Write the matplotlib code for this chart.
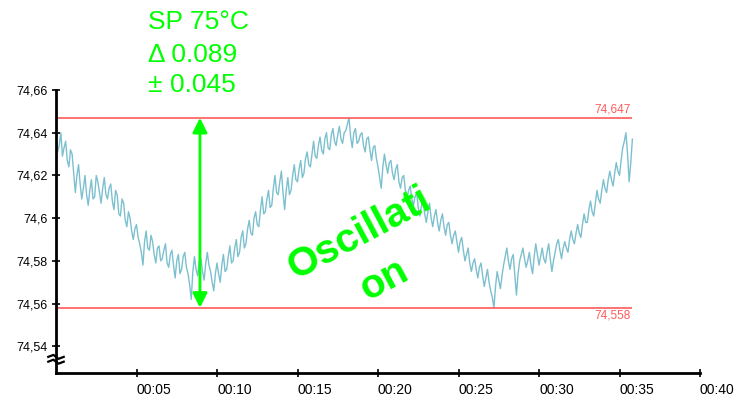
import numpy as np
import matplotlib
matplotlib.use("Agg")
import matplotlib.pyplot as plt
from matplotlib.ticker import FuncFormatter

# temperature log, one sample every 0.1 min
sample_step = 0.1
temps = [
    74.638, 74.631, 74.634, 74.640, 74.629, 74.633, 74.636, 74.627, 74.624, 74.632,
    74.630, 74.621, 74.612, 74.620, 74.625, 74.616, 74.609, 74.614, 74.620, 74.611,
    74.606, 74.613, 74.618, 74.609, 74.610, 74.620, 74.617, 74.612, 74.607, 74.614,
    74.619, 74.611, 74.609, 74.614, 74.616, 74.608, 74.604, 74.613, 74.611, 74.602,
    74.601, 74.609, 74.607, 74.599, 74.596, 74.603, 74.600, 74.594, 74.590, 74.595,
    74.597, 74.591, 74.588, 74.584, 74.578, 74.589, 74.594, 74.586, 74.585, 74.592,
    74.589, 74.583, 74.579, 74.586, 74.587, 74.580, 74.581, 74.585, 74.588, 74.579,
    74.577, 74.583, 74.585, 74.578, 74.572, 74.580, 74.583, 74.574, 74.576, 74.582,
    74.584, 74.577, 74.574, 74.569, 74.562, 74.575, 74.582, 74.576, 74.573, 74.580,
    74.581, 74.575, 74.571, 74.579, 74.584, 74.578, 74.575, 74.570, 74.566, 74.574,
    74.579, 74.574, 74.570, 74.578, 74.583, 74.575, 74.576, 74.582, 74.587, 74.579,
    74.580, 74.586, 74.590, 74.582, 74.584, 74.591, 74.594, 74.586, 74.588, 74.595,
    74.599, 74.593, 74.592, 74.600, 74.603, 74.597, 74.596, 74.604, 74.610, 74.602,
    74.603, 74.609, 74.613, 74.605, 74.606, 74.614, 74.620, 74.612, 74.611, 74.617,
    74.622, 74.612, 74.604, 74.613, 74.619, 74.611, 74.613, 74.620, 74.625, 74.618,
    74.617, 74.623, 74.627, 74.619, 74.621, 74.628, 74.631, 74.625, 74.624, 74.630,
    74.636, 74.629, 74.628, 74.634, 74.638, 74.632, 74.630, 74.637, 74.640, 74.633,
    74.632, 74.639, 74.642, 74.636, 74.634, 74.639, 74.643, 74.637, 74.635, 74.640,
    74.641, 74.644, 74.647, 74.638, 74.633, 74.640, 74.642, 74.635, 74.636, 74.639,
    74.640, 74.634, 74.631, 74.637, 74.638, 74.632, 74.627, 74.633, 74.634, 74.628,
    74.624, 74.619, 74.614, 74.624, 74.630, 74.625, 74.621, 74.626, 74.627, 74.621,
    74.618, 74.623, 74.625, 74.617, 74.614, 74.619, 74.620, 74.613, 74.609, 74.613,
    74.615, 74.609, 74.606, 74.610, 74.612, 74.605, 74.601, 74.606, 74.608, 74.602,
    74.598, 74.603, 74.607, 74.600, 74.596, 74.601, 74.604, 74.598, 74.594, 74.599,
    74.602, 74.596, 74.592, 74.597, 74.598, 74.592, 74.588, 74.592, 74.594, 74.589,
    74.584, 74.589, 74.591, 74.585, 74.580, 74.583, 74.586, 74.579, 74.575, 74.579,
    74.581, 74.576, 74.572, 74.577, 74.579, 74.573, 74.568, 74.572, 74.576, 74.570,
    74.566, 74.563, 74.558, 74.568, 74.575, 74.571, 74.567, 74.573, 74.578, 74.582,
    74.586, 74.580, 74.576, 74.581, 74.583, 74.573, 74.564, 74.574, 74.580, 74.583,
    74.586, 74.581, 74.577, 74.580, 74.584, 74.578, 74.574, 74.582, 74.588, 74.583,
    74.578, 74.582, 74.586, 74.581, 74.579, 74.584, 74.588, 74.581, 74.575, 74.580,
    74.584, 74.588, 74.590, 74.585, 74.581, 74.586, 74.589, 74.586, 74.584, 74.590,
    74.594, 74.590, 74.588, 74.593, 74.597, 74.593, 74.591, 74.597, 74.602, 74.598,
    74.598, 74.604, 74.608, 74.603, 74.601, 74.607, 74.613, 74.609, 74.607, 74.613,
    74.618, 74.614, 74.612, 74.618, 74.622, 74.618, 74.615, 74.621, 74.626, 74.622,
    74.620, 74.627, 74.633, 74.636, 74.640, 74.630, 74.617, 74.626, 74.637,
]
minutes = np.arange(len(temps)) * sample_step

t_max = 74.647
t_min = 74.558
setpoint = "SP 75°C"
delta_text = "Δ 0.089"
pm_text = "± 0.045"
x_ticks = [5, 10, 15, 20, 25, 30, 35, 40]
x_labels = ["00:05", "00:10", "00:15", "00:20", "00:25", "00:30", "00:35", "00:40"]
y_ticks = [74.54, 74.56, 74.58, 74.60, 74.62, 74.64, 74.66]

GREEN = "#00ff00"
RED = "#ff5a5a"
LINE = "#7cc0cf"

plt.rcParams["font.family"] = ["Liberation Sans", "DejaVu Sans"]


def comma_fmt(v, pos=None):
    s = "{:.2f}".format(v).rstrip("0").rstrip(".")
    return s.replace(".", ",")


fig = plt.figure(figsize=(7.42, 3.96), dpi=100)
ax = fig.add_axes([56 / 742, 23 / 396, 644 / 742, 283 / 396])

ax.plot(minutes, temps, color=LINE, lw=1.0)

# max / min lines with their values
t_end = minutes[-1]
ax.hlines([t_max, t_min], 0, t_end, colors=RED, lw=1.2)
ax.text(t_end - 0.1, t_max + 0.0009, "{:.3f}".format(t_max).replace(".", ","),
        color=RED, fontsize=8.5, ha="right", va="bottom")
ax.text(t_end - 0.1, t_min - 0.0009, "{:.3f}".format(t_min).replace(".", ","),
        color=RED, fontsize=8.5, ha="right", va="top")

# span arrow
ax.annotate("", xy=(8.94, t_min), xytext=(8.94, t_max),
            arrowprops=dict(arrowstyle="<|-|>", color=GREEN, lw=2,
                            mutation_scale=22, shrinkA=0, shrinkB=0))

ax.text(19.6, 74.582, "Oscillati\non", color=GREEN, fontsize=29,
        fontweight="bold", rotation=28, rotation_mode="anchor",
        ha="center", va="center", multialignment="center", linespacing=1.45)

fig.text(148 / 742, 1 - 29 / 396, setpoint, color=GREEN, fontsize=19, va="baseline")
fig.text(148 / 742, 1 - 62 / 396, delta_text, color=GREEN, fontsize=19, va="baseline")
fig.text(148 / 742, 1 - 92 / 396, pm_text, color=GREEN, fontsize=19, va="baseline")

ax.set_xlim(0, 40)
ax.set_ylim(74.5275, 74.66)
ax.set_xticks(x_ticks)
ax.set_xticklabels(x_labels, ha="left", fontsize=10,
                   family=["Liberation Sans Narrow", "Liberation Sans"])
ax.set_yticks(y_ticks)
ax.yaxis.set_major_formatter(FuncFormatter(comma_fmt))
ax.tick_params(axis="y", direction="inout", length=6, width=1.2, labelsize=9, pad=3)
ax.tick_params(axis="x", direction="inout", length=6, width=1.2, pad=4)

for side in ["top", "right"]:
    ax.spines[side].set_visible(False)
ax.spines["left"].set_linewidth(2)
ax.spines["bottom"].set_linewidth(2)
ax.set_facecolor("white")

# axis break mark on the y axis
for yb in [0.057, 0.040]:
    ax.plot([-0.012, -0.004, 0.004, 0.012], [yb, yb + 0.007, yb - 0.007, yb],
            transform=ax.transAxes, color="black", lw=1.6, clip_on=False)

fig.savefig("out.png", dpi=100, facecolor="white")
